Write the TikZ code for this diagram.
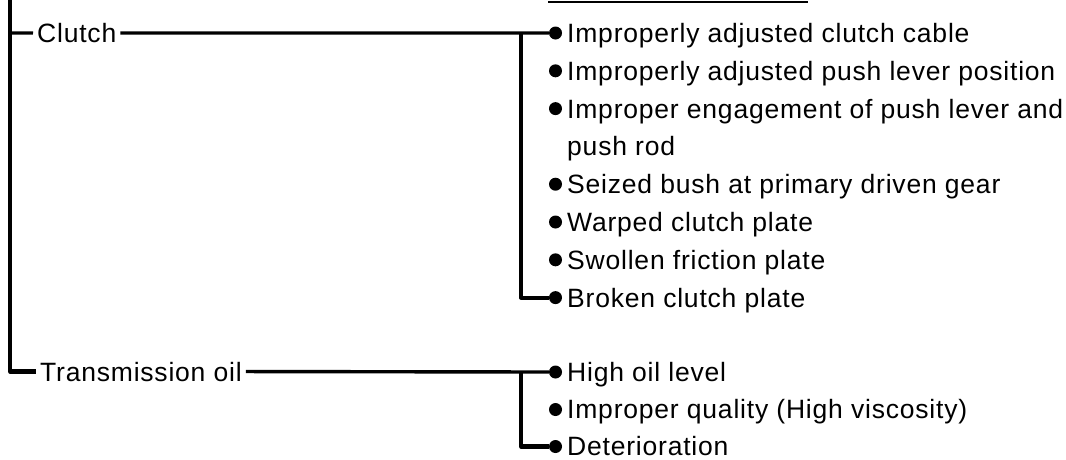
\documentclass[tikz,border=0pt]{standalone}
\usepackage{fontspec}
\setmainfont{Liberation Sans}[LetterSpace=3]
\begin{document}
\begin{tikzpicture}[x=1pt,y=-1pt,
  txt/.style={anchor=base west,inner sep=0pt,font=\fontsize{26.5}{30}\selectfont},
  cat/.style={txt,inner xsep=4pt},
  dot/.style={circle,fill=black,inner sep=0pt,minimum size=13pt},
  conn/.style={line width=3.4pt,line join=round,line cap=butt},
  trunk/.style={line width=4.2pt,line join=round}]
\useasboundingbox (0,0) rectangle (1066,459);
% partial underline at top
\coordinate (u1) at (548,2);
\coordinate (u2) at (808,2);
\draw[line width=2pt] (u1) -- (u2);
% category labels
\node[cat] (clutch) at (33,42.5) {Clutch};
\node[cat] (trans) at (36,381) {Transmission oil};
% left trunk
\coordinate (top) at (10,0);
\coordinate (cl) at (10,33);
\draw[trunk] (top) |- (trans.west);
\draw[conn] (cl) -- (clutch.west);
% clutch items
\foreach \i/\y/\t in {1/33/Improperly adjusted clutch cable,
                      2/70.8/Improperly adjusted push lever position,
                      3/108.6/Improper engagement of push lever and,
                      5/184.2/Seized bush at primary driven gear,
                      6/222/Warped clutch plate,
                      7/259.8/Swollen friction plate,
                      8/297.6/Broken clutch plate}{
  \node[dot] (cb\i) at (555.5,\y) {};
  \node[txt] (ct\i) at (567,\y+9.5) {\t};
}
\node[txt] (ct4) at (567,155.9) {push rod};
\coordinate (cj) at (521,33);
\draw[conn] (clutch.east) -- (cb1.west);
\draw[trunk] (cj) |- (cb8.west);
% transmission items
\foreach \i/\y/\t in {1/372/High oil level,
                      2/409.5/Improper quality (High viscosity),
                      3/446.5/Deterioration}{
  \node[dot] (tb\i) at (555.5,\y) {};
  \node[txt] (tt\i) at (567,\y+9) {\t};
}
\coordinate (tj) at (521,372);
\draw[conn] (trans.east) -- (tb1.west);
\draw[trunk] (tj) |- (tb3.west);
\end{tikzpicture}
\end{document}
